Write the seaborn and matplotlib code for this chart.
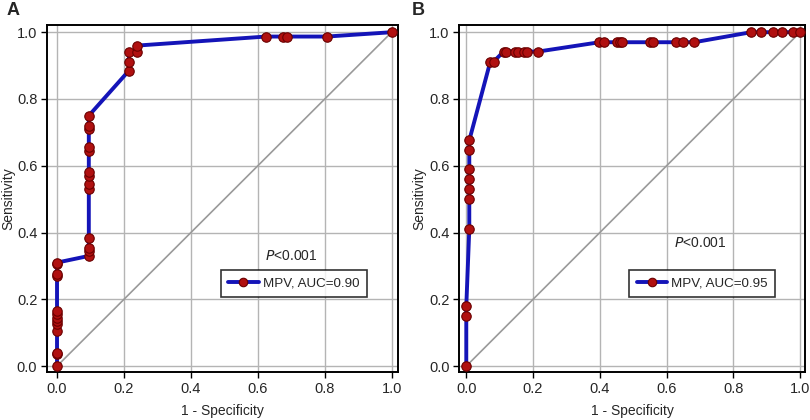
import numpy as np
import pandas as pd
import seaborn as sns
from matplotlib import pyplot as plt

# ROC points, panel A
fpr_a = [0.0, 0.0, 0.0, 0.0, 0.0, 0.0, 0.0, 0.0, 0.0, 0.0, 0.0, 0.0, 0.0,
         0.095, 0.095, 0.095, 0.095, 0.095, 0.095, 0.095, 0.095, 0.095, 0.095, 0.095, 0.095, 0.095,
         0.215, 0.215, 0.215, 0.24, 0.24,
         0.624, 0.674, 0.686, 0.806, 1.0]
tpr_a = [0.0, 0.035, 0.04, 0.105, 0.125, 0.135, 0.145, 0.155, 0.165, 0.27, 0.275, 0.305, 0.31,
         0.33, 0.345, 0.355, 0.385, 0.53, 0.545, 0.57, 0.58, 0.645, 0.655, 0.71, 0.72, 0.75,
         0.885, 0.91, 0.94, 0.94, 0.96,
         0.987, 0.987, 0.987, 0.987, 1.0]

# panel B
fpr_b = [0.0, 0.0, 0.0,
         0.009, 0.009, 0.009, 0.009, 0.009, 0.009, 0.009,
         0.072, 0.082,
         0.112, 0.12, 0.147, 0.154, 0.174, 0.182, 0.215,
         0.399, 0.413, 0.451, 0.459, 0.467, 0.549, 0.558, 0.629, 0.649, 0.683,
         0.853, 0.882, 0.918, 0.945, 0.98, 1.0]
tpr_b = [0.0, 0.149, 0.179,
         0.411, 0.5, 0.53, 0.56, 0.59, 0.648, 0.676,
         0.912, 0.912,
         0.942, 0.942, 0.942, 0.942, 0.942, 0.942, 0.942,
         0.970, 0.970, 0.970, 0.970, 0.970, 0.970, 0.970, 0.970, 0.970, 0.970,
         1.0, 1.0, 1.0, 1.0, 1.0, 1.0]

panel_labels = ["A", "B"]
legend_labels = ["MPV, AUC=0.90", "MPV, AUC=0.95"]
p_text_y = [0.33, 0.368]

sns.set_style("whitegrid")
plt.rcParams['font.family'] = ['Liberation Sans', 'DejaVu Sans']

fig = plt.figure(figsize=(8.1, 4.2), dpi=100)
ax_a = fig.add_axes([0.058, 0.114, 0.433, 0.826])
ax_b = fig.add_axes([0.567, 0.114, 0.427, 0.826])

panels = [(ax_a, fpr_a, tpr_a, (-0.03, 1.018), -0.091),
          (ax_b, fpr_b, tpr_b, (-0.021, 1.015), -0.095)]

for i, (ax, fx, ty, xl, ylx) in enumerate(panels):
    df = pd.DataFrame({"fpr": fx, "tpr": ty})
    ax.plot([0, 1], [0, 1], color="#9a9a9a", lw=1.2, zorder=1)
    sns.lineplot(data=df, x="fpr", y="tpr", ax=ax, sort=False, estimator=None,
                 color="#1414b8", lw=2.8, marker="o", markersize=6.8,
                 markerfacecolor="#b01010", markeredgecolor="#6a0000",
                 markeredgewidth=0.8, label=legend_labels[i], zorder=3)
    ax.set_xlim(*xl)
    ax.set_ylim(-0.018, 1.021)
    ax.set_xticks(np.arange(0, 1.01, 0.2))
    ax.set_yticks(np.arange(0, 1.01, 0.2))
    ax.set_xticklabels([f"{v:.1f}" for v in np.arange(0, 1.01, 0.2)])
    ax.set_yticklabels([f"{v:.1f}" for v in np.arange(0, 1.01, 0.2)])
    ax.grid(True, color="#b4b4b4", lw=1.0)
    ax.set_facecolor("white")
    for s in ax.spines.values():
        s.set_color("black")
        s.set_linewidth(1.4)
    ax.tick_params(axis="both", direction="out", length=4, width=1, color="black",
                   labelsize=10.5, pad=3, bottom=True, left=True)
    ax.set_xlabel("1 - Specificity", fontsize=10, labelpad=6)
    ax.set_ylabel("Sensitivity", fontsize=10)
    ax.yaxis.set_label_coords(ylx, 0.5)
    ax.text(0.70, p_text_y[i], "$\\it{P}$<0.001", fontsize=10, ha="center", va="center")
    leg = ax.legend(loc="center", bbox_to_anchor=(0.707, 0.247), bbox_transform=ax.transData,
                    fontsize=9.6, frameon=True, fancybox=False, handlelength=2.3,
                    handletextpad=0.3, borderpad=0.55, borderaxespad=0, markerscale=0.9)
    leg.get_frame().set_edgecolor("black")
    leg.get_frame().set_linewidth(1.2)

fig.text(0.008, 0.975, panel_labels[0], fontsize=13, fontweight="bold", va="center")
fig.text(0.508, 0.975, panel_labels[1], fontsize=13, fontweight="bold", va="center")

fig.savefig("out.png", dpi=100)
